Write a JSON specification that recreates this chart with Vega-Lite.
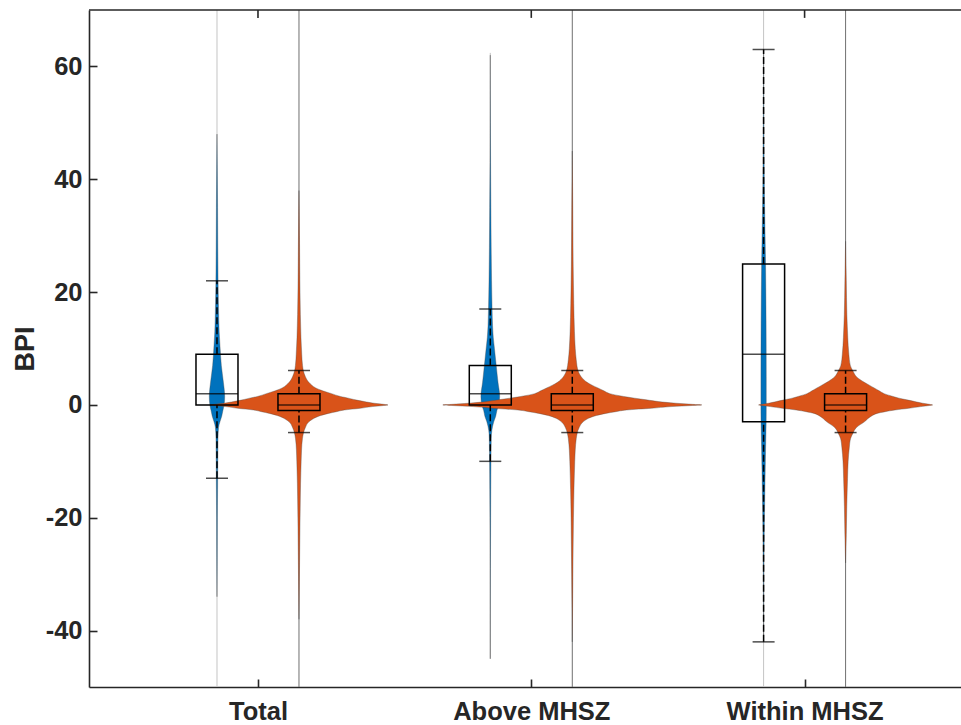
{
  "$schema": "https://vega.github.io/schema/vega-lite/v6.json",
  "width": 872,
  "height": 677,
  "autosize": {"type": "none"},
  "padding": {"left": 89, "top": 10, "right": 0, "bottom": 38},
  "background": "white",
  "config": {
    "view": {"stroke": null},
    "axis": {
      "domainColor": "#262626", "domainWidth": 1.6,
      "tickColor": "#262626", "tickWidth": 1.6, "tickSize": -8,
      "labelFont": "Liberation Sans", "labelFontWeight": "bold", "labelFontSize": 25.5, "labelColor": "#262626",
      "titleFont": "Liberation Sans", "titleFontWeight": "bold", "titleFontSize": 27, "titleColor": "#262626",
      "grid": false
    }
  },
  "datasets": {
    "lines": [
      {"g": 1, "s": "A", "top": 70, "bottom": -50},
      {"g": 1, "s": "B", "top": 70, "bottom": -50},
      {"g": 2, "s": "A", "top": 62.4, "bottom": -45},
      {"g": 2, "s": "B", "top": 70, "bottom": -50},
      {"g": 3, "s": "A", "top": 70, "bottom": -50},
      {"g": 3, "s": "B", "top": 70, "bottom": -50}
    ],
    "cats": [{"g": 1}, {"g": 2}, {"g": 3}],
    "box": [
      {"g": 1, "s": "A", "lower": -13, "q1": 0, "med": 2, "q3": 9, "upper": 22},
      {"g": 1, "s": "B", "lower": -4.9, "q1": -1, "med": 0, "q3": 2, "upper": 6.1},
      {"g": 2, "s": "A", "lower": -10, "q1": 0, "med": 2, "q3": 7, "upper": 17},
      {"g": 2, "s": "B", "lower": -4.9, "q1": -1, "med": 0, "q3": 2, "upper": 6.1},
      {"g": 3, "s": "A", "lower": -42, "q1": -3, "med": 9, "q3": 25, "upper": 63},
      {"g": 3, "s": "B", "lower": -4.9, "q1": -1, "med": 0, "q3": 2, "upper": 6.1}
    ],
    "violin": [
      {"g":1,"s":"A","v":48,"w":0},{"g":1,"s":"A","v":42,"w":0.3},{"g":1,"s":"A","v":35,"w":0.6},{"g":1,"s":"A","v":28,"w":0.8},{"g":1,"s":"A","v":22,"w":1.1},{"g":1,"s":"A","v":17,"w":1.6},{"g":1,"s":"A","v":13,"w":2.2},{"g":1,"s":"A","v":10,"w":3.2},{"g":1,"s":"A","v":7,"w":4.4},{"g":1,"s":"A","v":4,"w":6.5},{"g":1,"s":"A","v":1.5,"w":7.8},{"g":1,"s":"A","v":0,"w":7.2},{"g":1,"s":"A","v":-1,"w":6},{"g":1,"s":"A","v":-2,"w":4.8},{"g":1,"s":"A","v":-3,"w":3},{"g":1,"s":"A","v":-4,"w":1.6},{"g":1,"s":"A","v":-6,"w":1},{"g":1,"s":"A","v":-10,"w":0.8},{"g":1,"s":"A","v":-15,"w":0.6},{"g":1,"s":"A","v":-20,"w":0.4},{"g":1,"s":"A","v":-27,"w":0.25},{"g":1,"s":"A","v":-34,"w":0},
      {"g":1,"s":"B","v":38,"w":0},{"g":1,"s":"B","v":30,"w":0.5},{"g":1,"s":"B","v":22,"w":0.9},{"g":1,"s":"B","v":16,"w":1.4},{"g":1,"s":"B","v":12,"w":2},{"g":1,"s":"B","v":9,"w":2.8},{"g":1,"s":"B","v":7,"w":3.6},{"g":1,"s":"B","v":6,"w":4.5},{"g":1,"s":"B","v":5,"w":6.5},{"g":1,"s":"B","v":4,"w":10},{"g":1,"s":"B","v":3.5,"w":13},{"g":1,"s":"B","v":3,"w":17},{"g":1,"s":"B","v":2.5,"w":24},{"g":1,"s":"B","v":2,"w":33},{"g":1,"s":"B","v":1.5,"w":42},{"g":1,"s":"B","v":1.2,"w":50},{"g":1,"s":"B","v":0.9,"w":57},{"g":1,"s":"B","v":0.6,"w":66},{"g":1,"s":"B","v":0.3,"w":76},{"g":1,"s":"B","v":0.1,"w":86},{"g":1,"s":"B","v":0,"w":90},{"g":1,"s":"B","v":-0.1,"w":86},{"g":1,"s":"B","v":-0.3,"w":74},{"g":1,"s":"B","v":-0.6,"w":62},{"g":1,"s":"B","v":-0.9,"w":46},{"g":1,"s":"B","v":-1.2,"w":38},{"g":1,"s":"B","v":-1.5,"w":30},{"g":1,"s":"B","v":-2,"w":20},{"g":1,"s":"B","v":-2.5,"w":14},{"g":1,"s":"B","v":-3,"w":10},{"g":1,"s":"B","v":-4,"w":6.5},{"g":1,"s":"B","v":-5,"w":4.5},{"g":1,"s":"B","v":-6,"w":3.5},{"g":1,"s":"B","v":-8,"w":2.6},{"g":1,"s":"B","v":-10,"w":2.2},{"g":1,"s":"B","v":-14,"w":1.6},{"g":1,"s":"B","v":-20,"w":1.1},{"g":1,"s":"B","v":-28,"w":0.6},{"g":1,"s":"B","v":-38,"w":0},
      {"g":2,"s":"A","v":62,"w":0},{"g":2,"s":"A","v":50,"w":0.15},{"g":2,"s":"A","v":43,"w":0.3},{"g":2,"s":"A","v":35,"w":0.6},{"g":2,"s":"A","v":28,"w":0.9},{"g":2,"s":"A","v":22,"w":1.3},{"g":2,"s":"A","v":17,"w":1.8},{"g":2,"s":"A","v":14,"w":2.3},{"g":2,"s":"A","v":12,"w":3},{"g":2,"s":"A","v":10,"w":4.2},{"g":2,"s":"A","v":7,"w":6},{"g":2,"s":"A","v":4,"w":7.8},{"g":2,"s":"A","v":1.5,"w":9.5},{"g":2,"s":"A","v":0,"w":8.5},{"g":2,"s":"A","v":-1,"w":6.7},{"g":2,"s":"A","v":-2,"w":5.5},{"g":2,"s":"A","v":-3,"w":3.5},{"g":2,"s":"A","v":-4.5,"w":1.6},{"g":2,"s":"A","v":-6,"w":1},{"g":2,"s":"A","v":-10,"w":0.7},{"g":2,"s":"A","v":-15,"w":0.5},{"g":2,"s":"A","v":-20,"w":0.35},{"g":2,"s":"A","v":-29,"w":0.15},{"g":2,"s":"A","v":-45,"w":0},
      {"g":2,"s":"B","v":45,"w":0},{"g":2,"s":"B","v":35,"w":0.5},{"g":2,"s":"B","v":25,"w":0.9},{"g":2,"s":"B","v":18,"w":1.5},{"g":2,"s":"B","v":13,"w":2.2},{"g":2,"s":"B","v":10,"w":3},{"g":2,"s":"B","v":8,"w":4},{"g":2,"s":"B","v":6,"w":6},{"g":2,"s":"B","v":5,"w":9},{"g":2,"s":"B","v":4,"w":15},{"g":2,"s":"B","v":3.5,"w":20},{"g":2,"s":"B","v":3,"w":26},{"g":2,"s":"B","v":2.5,"w":32},{"g":2,"s":"B","v":2,"w":38},{"g":2,"s":"B","v":1.5,"w":52},{"g":2,"s":"B","v":1.2,"w":63},{"g":2,"s":"B","v":0.9,"w":75},{"g":2,"s":"B","v":0.6,"w":87},{"g":2,"s":"B","v":0.3,"w":105},{"g":2,"s":"B","v":0.1,"w":122},{"g":2,"s":"B","v":0,"w":131},{"g":2,"s":"B","v":-0.1,"w":122},{"g":2,"s":"B","v":-0.3,"w":100},{"g":2,"s":"B","v":-0.6,"w":80},{"g":2,"s":"B","v":-0.9,"w":55},{"g":2,"s":"B","v":-1.2,"w":44},{"g":2,"s":"B","v":-1.5,"w":34},{"g":2,"s":"B","v":-2,"w":22},{"g":2,"s":"B","v":-2.5,"w":15},{"g":2,"s":"B","v":-3,"w":11},{"g":2,"s":"B","v":-4,"w":7},{"g":2,"s":"B","v":-5,"w":5},{"g":2,"s":"B","v":-6,"w":4},{"g":2,"s":"B","v":-8,"w":3},{"g":2,"s":"B","v":-10,"w":2.5},{"g":2,"s":"B","v":-15,"w":1.7},{"g":2,"s":"B","v":-20,"w":1.2},{"g":2,"s":"B","v":-30,"w":0.6},{"g":2,"s":"B","v":-42,"w":0},
      {"g":3,"s":"A","v":63,"w":0},{"g":3,"s":"A","v":50,"w":0.3},{"g":3,"s":"A","v":38,"w":0.8},{"g":3,"s":"A","v":30,"w":1.5},{"g":3,"s":"A","v":25,"w":2},{"g":3,"s":"A","v":15,"w":2.5},{"g":3,"s":"A","v":5,"w":2.7},{"g":3,"s":"A","v":0,"w":2.7},{"g":3,"s":"A","v":-3,"w":2.6},{"g":3,"s":"A","v":-8,"w":2},{"g":3,"s":"A","v":-15,"w":1.3},{"g":3,"s":"A","v":-22,"w":0.7},{"g":3,"s":"A","v":-30,"w":0.3},{"g":3,"s":"A","v":-42,"w":0},
      {"g":3,"s":"B","v":29,"w":0},{"g":3,"s":"B","v":22,"w":0.7},{"g":3,"s":"B","v":16,"w":1.3},{"g":3,"s":"B","v":12,"w":2.2},{"g":3,"s":"B","v":9,"w":3.3},{"g":3,"s":"B","v":7,"w":4.8},{"g":3,"s":"B","v":6,"w":7.5},{"g":3,"s":"B","v":5,"w":11},{"g":3,"s":"B","v":4,"w":19},{"g":3,"s":"B","v":3.5,"w":24},{"g":3,"s":"B","v":3,"w":29},{"g":3,"s":"B","v":2.5,"w":34},{"g":3,"s":"B","v":2,"w":39},{"g":3,"s":"B","v":1.5,"w":48},{"g":3,"s":"B","v":1.2,"w":54},{"g":3,"s":"B","v":0.9,"w":62},{"g":3,"s":"B","v":0.6,"w":70},{"g":3,"s":"B","v":0.3,"w":78},{"g":3,"s":"B","v":0.1,"w":85},{"g":3,"s":"B","v":0,"w":88},{"g":3,"s":"B","v":-0.1,"w":85},{"g":3,"s":"B","v":-0.3,"w":76},{"g":3,"s":"B","v":-0.6,"w":64},{"g":3,"s":"B","v":-0.9,"w":50},{"g":3,"s":"B","v":-1.2,"w":40},{"g":3,"s":"B","v":-1.5,"w":32},{"g":3,"s":"B","v":-2,"w":26},{"g":3,"s":"B","v":-3,"w":19},{"g":3,"s":"B","v":-4,"w":11},{"g":3,"s":"B","v":-5,"w":7.5},{"g":3,"s":"B","v":-6,"w":5},{"g":3,"s":"B","v":-7.5,"w":3.8},{"g":3,"s":"B","v":-10,"w":2.6},{"g":3,"s":"B","v":-13,"w":2},{"g":3,"s":"B","v":-18,"w":1.2},{"g":3,"s":"B","v":-23,"w":0.7},{"g":3,"s":"B","v":-28,"w":0}
    ]
  },
  "layer": [
    {
      "data": {"name": "lines"},
      "transform": [{"calculate": "datum.g + (datum.s == 'A' ? -0.15 : 0.15)", "as": "pos"}],
      "mark": {"type": "rule", "strokeWidth": 1},
      "encoding": {
        "x": {"field": "pos", "type": "quantitative",
              "scale": {"domain": [0.4, 3.554], "nice": false, "zero": false},
              "axis": {"orient": "bottom", "values": [1, 2, 3], "title": null, "labelPadding": 20,
                       "labelExpr": "datum.value == 1 ? 'Total' : datum.value == 2 ? 'Above MHSZ' : 'Within MHSZ'"}},
        "y": {"field": "top", "type": "quantitative",
              "scale": {"domain": [-50, 70], "nice": false, "zero": false},
              "axis": {"orient": "left", "values": [-40, -20, 0, 20, 40, 60], "title": "BPI", "labelPadding": 15, "titlePadding": 6,
                       "labelExpr": "'' + datum.value"}},
        "y2": {"field": "bottom"},
        "color": {"condition": {"test": "datum.s == 'A'", "value": "#c4c4c4"}, "value": "#707070"}
      }
    },
    {
      "data": {"name": "violin"},
      "transform": [
        {"calculate": "datum.g + (datum.s == 'A' ? -0.15 : 0.15)", "as": "pos"},
        {"calculate": "datum.pos - datum.w / 276.5", "as": "lo"},
        {"calculate": "datum.pos + datum.w / 276.5", "as": "hi"}
      ],
      "mark": {"type": "area", "orient": "horizontal", "interpolate": "monotone", "stroke": "#4a4a4a", "strokeWidth": 0.6, "strokeOpacity": 0.6},
      "encoding": {
        "y": {"field": "v", "type": "quantitative"},
        "x": {"field": "lo", "type": "quantitative"},
        "x2": {"field": "hi"},
        "detail": {"field": "g"},
        "color": {"field": "s", "type": "nominal", "legend": null,
                  "scale": {"domain": ["A", "B"], "range": ["#0072BD", "#D95319"]}}
      }
    },
    {
      "data": {"name": "box"},
      "transform": [{"calculate": "datum.g + (datum.s == 'A' ? -0.15 : 0.15)", "as": "pos"}],
      "layer": [
        {
          "mark": {"type": "rule", "color": "black", "strokeWidth": 1.5, "strokeDash": [7, 3]},
          "encoding": {"x": {"field": "pos", "type": "quantitative"}, "y": {"field": "q3", "type": "quantitative"}, "y2": {"field": "upper"}}
        },
        {
          "mark": {"type": "rule", "color": "black", "strokeWidth": 1.5, "strokeDash": [7, 3]},
          "encoding": {"x": {"field": "pos", "type": "quantitative"}, "y": {"field": "lower", "type": "quantitative"}, "y2": {"field": "q1"}}
        },
        {
          "mark": {"type": "bar", "filled": false, "color": "black", "strokeWidth": 1.5, "size": 42},
          "encoding": {"x": {"field": "pos", "type": "quantitative"}, "y": {"field": "q1", "type": "quantitative"}, "y2": {"field": "q3"}}
        },
        {
          "mark": {"type": "tick", "orient": "horizontal", "color": "black", "size": 42, "thickness": 1.5},
          "encoding": {"x": {"field": "pos", "type": "quantitative"}, "y": {"field": "med", "type": "quantitative"}}
        },
        {
          "mark": {"type": "tick", "orient": "horizontal", "color": "black", "size": 22, "thickness": 1.5},
          "encoding": {"x": {"field": "pos", "type": "quantitative"}, "y": {"field": "upper", "type": "quantitative"}}
        },
        {
          "mark": {"type": "tick", "orient": "horizontal", "color": "black", "size": 22, "thickness": 1.5},
          "encoding": {"x": {"field": "pos", "type": "quantitative"}, "y": {"field": "lower", "type": "quantitative"}}
        }
      ]
    },
    {
      "data": {"name": "cats"},
      "mark": {"type": "rule", "color": "#262626", "strokeWidth": 1.6},
      "encoding": {
        "x": {"field": "g", "type": "quantitative"},
        "y": {"datum": 70},
        "y2": {"datum": 68.6}
      }
    },
    {
      "data": {"values": [{"v": 70}]},
      "mark": {"type": "rule", "color": "#262626", "strokeWidth": 1.6},
      "encoding": {
        "y": {"field": "v", "type": "quantitative"}
      }
    }
  ]
}
